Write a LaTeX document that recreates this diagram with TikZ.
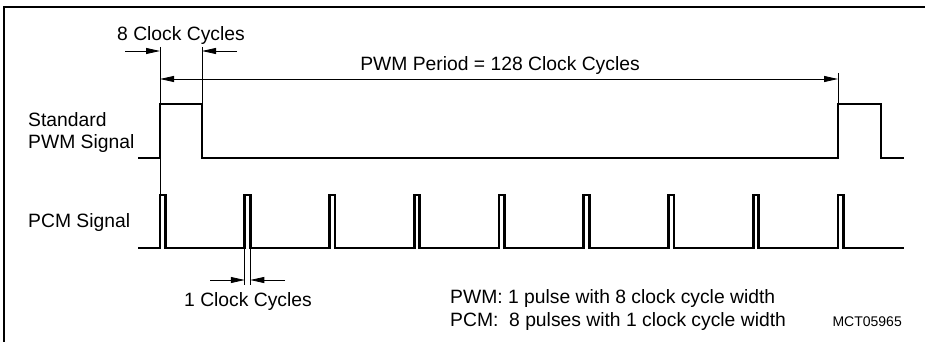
\documentclass[tikz,border=0pt]{standalone}
\usepackage{fontspec}
\setmainfont{Liberation Sans}
\usetikzlibrary{arrows.meta}
\begin{document}
\begin{tikzpicture}[x=1pt,y=-1pt,
  sig/.style={line width=2.6pt, line join=miter},
  guide/.style={line width=0.8pt},
  frame/.style={line width=2pt},
  dim/.style={line width=0.8pt,-{Triangle[length=14pt,width=6pt]}},
  dimboth/.style={line width=0.8pt,{Triangle[length=14pt,width=6pt]}-{Triangle[length=14pt,width=6pt]}},
  lbl/.style={inner sep=0pt, font=\fontsize{19.3}{22}\selectfont},
  small/.style={inner sep=0pt, font=\fontsize{14}{16}\selectfont}]
\useasboundingbox (0,0) rectangle (925,342);
\draw[frame] (4,342) -- (4,7) -- (925,7);
% PWM signal
\draw[sig] (138,158) -- (160,158) -- (160,104) -- (202,104) -- (202,158) -- (838,158) -- (838,104) -- (881,104) -- (881,158) -- (904,158);
% PCM signal
\draw[sig] (138,248) foreach \k in {0,...,8} { -- ({160+84.75*\k},248) -- ++(0,-53) -- ++(5.5,0) -- ++(0,53) } -- (904,248);
% guide lines
\coordinate (g1t) at (160,47); \coordinate (g1b) at (160,195);
\coordinate (g2t) at (202,47); \coordinate (g2b) at (202,104);
\coordinate (g3t) at (838,73); \coordinate (g3b) at (838,104);
\coordinate (g4t) at (244.75,248); \coordinate (g4b) at (244.75,285);
\coordinate (g5t) at (250.25,248); \coordinate (g5b) at (250.25,285);
\draw[guide] (g1t) -- (g1b);
\draw[guide] (g2t) -- (g2b);
\draw[guide] (g3t) -- (g3b);
\draw[guide] (g4t) -- (g4b);
\draw[guide] (g5t) -- (g5b);
% dimension arrows
\coordinate (a1s) at (125,51); \coordinate (a1e) at (160,51);
\coordinate (a2s) at (237,51); \coordinate (a2e) at (202,51);
\coordinate (p1) at (160,79); \coordinate (p2) at (838,79);
\coordinate (c1s) at (210,280); \coordinate (c1e) at (244.75,280);
\coordinate (c2s) at (285,280); \coordinate (c2e) at (250.25,280);
\draw[dim] (a1s) -- (a1e);
\draw[dim] (a2s) -- (a2e);
\draw[dimboth] (p1) -- (p2);
\draw[dim] (c1s) -- (c1e);
\draw[dim] (c2s) -- (c2e);
% labels
\node[lbl, anchor=base] (t8) at (181,41) {8 Clock Cycles};
\node[lbl, anchor=base] (tper) at (500,71) {PWM Period = 128 Clock Cycles};
\node[lbl, anchor=base west] (tstd) at (28,126) {Standard};
\node[lbl, anchor=base west] (tpwm) at (28,148) {PWM Signal};
\node[lbl, anchor=base west] (tpcm) at (28,227) {PCM Signal};
\node[lbl, anchor=base] (t1) at (248,306) {1 Clock Cycles};
\node[lbl, anchor=base west] (n1) at (450,303) {PWM: 1 pulse with 8 clock cycle width};
\node[lbl, anchor=base west] (n2) at (450,326) {PCM:\ \ 8 pulses with 1 clock cycle width};
\node[small, anchor=base east] (id) at (902,326) {MCT05965};
\end{tikzpicture}
\end{document}
